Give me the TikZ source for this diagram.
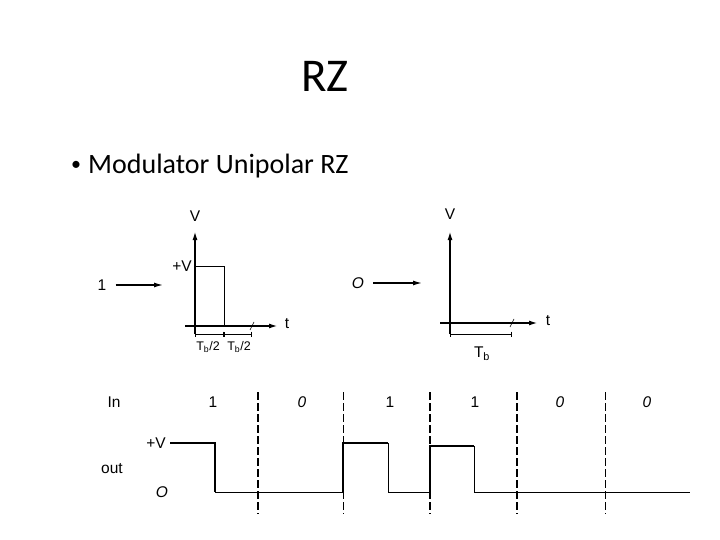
\documentclass[tikz,border=0pt]{standalone}
\usepackage{fontspec}
\setmainfont{Carlito}
\newfontfamily\plotfont{Liberation Sans}
\usetikzlibrary{arrows.meta}

\begin{document}
\begin{tikzpicture}[
  x=1pt, y=-1pt,
  lbl/.style={font=\plotfont\fontsize{15.5}{17}\selectfont, inner sep=1pt},
  small/.style={font=\plotfont\fontsize{12.5}{14}\selectfont, inner sep=1pt},
  axis/.style={-{Latex[length=8pt,width=5pt]}, line width=1.1pt},
  feed/.style={-{Latex[length=9pt,width=5pt]}, line width=1.3pt},
  dim/.style={{Bar[width=5pt]}-{Bar[width=5pt]}, line width=0.7pt},
  hi/.style={line width=1.8pt},
  lo/.style={line width=0.8pt},
  bound/.style={dash pattern=on 8pt off 3pt, line width=#1}
]
\useasboundingbox (0,0) rectangle (720,540);

% ---- heading ----
\node[font=\fontsize{47}{52}\selectfont] (title) at (325,76) {RZ};
\node[font=\fontsize{20}{24}\selectfont] (dot) at (76,166) {\textbullet};
\node[font=\fontsize{28}{32}\selectfont, anchor=west, inner sep=0pt] (bullet) at (88,166)
  {Modulator Unipolar RZ};

% ================= pulse for bit 1 =================
\coordinate (o1) at (195,326);
\coordinate (yt1) at (195,232);
\coordinate (tx1) at (277,326);
\coordinate (ts1) at (252,326);
\node[lbl] (v1)  at (195,216) {V};
\node[lbl] (t1)  at (287,324) {t};
\node[lbl, anchor=east] (pv1) at (193,266) {+V};
\node[lbl] (in1) at (102,285) {1};
\coordinate (in1end) at (163,285);
\draw[feed] (in1.east) ++(8,0) -- (in1end);
\draw[axis] (o1) ++(0,8) -- (yt1);
\draw[axis] (o1) ++(-10,0) -- (tx1);
\draw[line width=0.9pt] (195,266) -- (224,266) -- (224,326);
\draw[line width=0.6pt] (ts1) ++(-2,4) -- ++(4,-8);
% dimension
\coordinate (d1a) at (195,334);
\coordinate (d1b) at (224,334);
\coordinate (d1c) at (252,334);
\draw[dim] (d1a) -- (d1b);
\draw[dim] (d1b) -- (d1c);
\node[small] (h1) at (208,347) {T\textsubscript{b}/2};
\node[small] (h2) at (239,347) {T\textsubscript{b}/2};

% ================= pulse for bit 0 =================
\coordinate (o2) at (450,323);
\coordinate (yt2) at (450,232);
\coordinate (tx2) at (537,323);
\coordinate (ts2) at (512,323);
\node[lbl] (v2)  at (450,214) {V};
\node[lbl] (t2)  at (548,321) {t};
\node[lbl] (in2) at (358,283) {\itshape O};
\coordinate (in2end) at (422,283);
\draw[feed] (in2.east) ++(8,0) -- (in2end);
\draw[axis] (o2) ++(0,11) -- (yt2);
\draw[axis] (o2) ++(-10,0) -- (tx2);
\draw[line width=0.6pt] (ts2) ++(-2,4) -- ++(4,-8);
\coordinate (d2a) at (450,334);
\coordinate (d2b) at (512,334);
\draw[dim] (d2a) -- (d2b);
\node[lbl] (h3) at (482,354) {T\textsubscript{b}};

% ================= timing diagram =================
\def\rowIn{402}
\def\rowHi{443}
\def\rowLo{492}
\node[lbl] (lin)  at (114,\rowIn) {In};
\node[lbl] (lpv)  at (156,\rowHi) {+V};
\node[lbl] (lout) at (112,469) {out};
\node[lbl] (lzr)  at (162,\rowLo) {\itshape O};
\foreach \x/\b [count=\i] in {213/1, 302/\textit{0}, 390/1, 475/1, 560/\textit{0}, 647/\textit{0}}
  {\node[lbl] (bit\i) at (\x,\rowIn) {\b};}
% bit boundaries
\foreach \x/\w in {258/1.8pt, 343/0.8pt, 430/1.8pt, 517/1.8pt, 605/0.8pt}
  {\draw[bound=\w] (\x,392) -- (\x,514);}
% output waveform
\draw[hi] (170,\rowHi) -- (215,\rowHi) -- (215,\rowLo);
\draw[lo] (215,\rowLo) -- (343,\rowLo);
\draw[hi] (343,\rowLo) -- (343,\rowHi) -- (388,\rowHi);
\draw[lo] (388,\rowHi) -- (388,\rowLo) -- (430,\rowLo);
\draw[hi] (430,\rowLo) -- (430,446) -- (474,446);
\draw[lo] (474,446) -- (474,\rowLo) -- (690,\rowLo);

\end{tikzpicture}
\end{document}
